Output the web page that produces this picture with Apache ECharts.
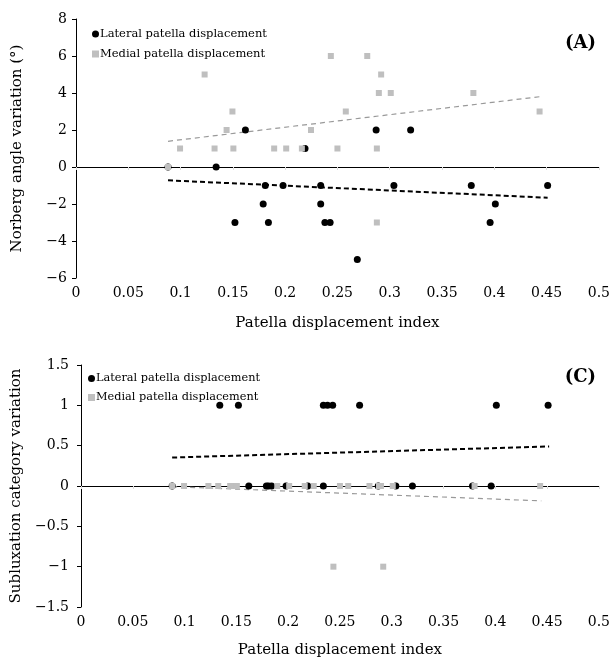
<!DOCTYPE html>
<html>
<head>
<meta charset="utf-8">
<script src="https://cdn.jsdelivr.net/npm/echarts@6/dist/echarts.min.js"></script>
<style>
  html, body { margin: 0; padding: 0; background: #fff; }
  #chart { width: 613px; height: 659px; }
</style>
</head>
<body>
<div id="chart"></div>
<script>
// patella displacement index (x) for each dog
const lateralIndex = [0.088, 0.134, 0.162, 0.181, 0.179, 0.152, 0.184, 0.198, 0.219, 0.234, 0.234,
  0.238, 0.243, 0.269, 0.287, 0.32, 0.304, 0.378, 0.396, 0.401, 0.451]
const lateralNorberg = [0, 0, 2, -1, -2, -3, -3, -1, 1, -1, -2,
  -3, -3, -5, 2, 2, -1, -1, -3, -2, -1]
const lateralSublux = [0, 1, 0, 0, 0, 1, 0, 0, 0, 0, 1,
  1, 1, 1, 0, 0, 0, 0, 0, 1, 1]

const medialIndex = [0.088, 0.0995, 0.123, 0.1325, 0.144, 0.1496, 0.1505, 0.1895, 0.201, 0.216, 0.2247,
  0.2437, 0.25, 0.258, 0.2785, 0.2877, 0.2877, 0.2896, 0.2918, 0.301, 0.38, 0.4433]
const medialNorberg = [0, 1, 5, 1, 2, 3, 1, 1, 1, 1, 2,
  6, 1, 3, 6, 1, -3, 4, 5, 4, 4, 3]
const medialSublux = [0, 0, 0, 0, 0, 0, 0, 0, 0, 0, 0,
  -1, 0, 0, 0, 0, 0, 0, -1, 0, 0, 0]

// linear trend ends [x, y]
const trendLateralA = [[0.088, -0.72], [0.451, -1.66]]
const trendMedialA = [[0.088, 1.39], [0.4433, 3.8]]
const trendLateralC = [[0.088, 0.353], [0.452, 0.49]]
const trendMedialC = [[0.088, -0.008], [0.4444, -0.184]]

const font = 'DejaVu Serif'
const minus = v => String(v).replace('-', '\u2212')
const zip = (xs, ys) => xs.map((x, i) => [x, ys[i]])

const myEChart = echarts.init(document.getElementById('chart'))

function xAxes(grid, nameGap) {
  return [
    {
      gridIndex: grid,
      type: 'value',
      min: 0,
      max: 0.5,
      interval: 0.05,
      position: 'bottom',
      axisLine: { onZero: true, lineStyle: { color: '#000', width: 1 } },
      axisTick: { show: true, length: 3, lineStyle: { color: '#ddd' } },
      axisLabel: { show: false },
      splitLine: { show: false }
    },
    {
      gridIndex: grid,
      type: 'value',
      min: 0,
      max: 0.5,
      interval: 0.05,
      position: 'bottom',
      axisLine: { show: false, onZero: false },
      axisTick: { show: false },
      axisLabel: {
        color: '#000',
        fontFamily: font,
        fontSize: 14,
        margin: 8,
        formatter: v => String(Math.round(v * 100) / 100)
      },
      splitLine: { show: false },
      name: 'Patella displacement index',
      nameLocation: 'middle',
      nameGap,
      nameTextStyle: { color: '#000', fontFamily: font, fontSize: 15 }
    }
  ]
}

function yAxis(grid, min, max, interval, name, margin, nameGap) {
  return {
    gridIndex: grid,
    type: 'value',
    min,
    max,
    interval,
    axisLine: { show: true, onZero: false, lineStyle: { color: '#000', width: 1 } },
    axisTick: { show: true, length: 4, lineStyle: { color: '#000' } },
    axisLabel: { color: '#000', fontFamily: font, fontSize: 14, margin, formatter: minus },
    splitLine: { show: false },
    name,
    nameLocation: 'middle',
    nameGap,
    nameTextStyle: { color: '#000', fontFamily: font, fontSize: 15 }
  }
}

function scatter(name, xi, yi, data, isLateral) {
  return {
    name,
    type: 'scatter',
    xAxisIndex: xi,
    yAxisIndex: yi,
    symbol: isLateral ? 'circle' : 'rect',
    symbolSize: isLateral ? 7 : 6,
    itemStyle: { color: isLateral ? '#000' : '#bfbfbf', opacity: 1 },
    z: isLateral ? 3 : 4,
    data
  }
}

function trend(xi, yi, data, isLateral) {
  return {
    type: 'line',
    xAxisIndex: xi,
    yAxisIndex: yi,
    symbol: 'none',
    silent: true,
    lineStyle: isLateral
      ? { color: '#000', width: 2, type: [5, 3] }
      : { color: '#999', width: 1.2, type: [5, 4] },
    z: 2,
    data
  }
}

const legendText = { color: '#000', fontFamily: font, fontSize: 11.5, padding: [0, 0, 0, -4] }
const legendData = [
  { name: 'Lateral patella displacement', icon: 'circle', itemStyle: { opacity: 1 } },
  { name: 'Medial patella displacement', icon: 'rect', itemStyle: { opacity: 1 } }
]

const option = {
  animation: false,
  grid: [
    { left: 76, right: 11, top: 19, height: 259 },
    { left: 81, right: 8, top: 365, height: 247 }
  ],
  legend: [
    {
      left: 87, top: 23, orient: 'vertical', itemGap: 8, itemWidth: 7, itemHeight: 7,
      textStyle: legendText, data: legendData, selectedMode: false
    },
    {
      left: 83, top: 368, orient: 'vertical', itemGap: 8, itemWidth: 7, itemHeight: 7,
      textStyle: Object.assign({}, legendText, { fontSize: 11.3 }), data: legendData, selectedMode: false
    }
  ],
  title: [
    { text: '(A)', right: 12, top: 29, textStyle: { fontFamily: font, fontSize: 18, fontWeight: 'bold', color: '#000' } },
    { text: '(C)', right: 12, top: 363, textStyle: { fontFamily: font, fontSize: 18, fontWeight: 'bold', color: '#000' } }
  ],
  xAxis: [...xAxes(0, 38), ...xAxes(1, 36)],
  yAxis: [
    yAxis(0, -6, 8, 2, 'Norberg angle variation (°)', 9, 51),
    yAxis(1, -1.5, 1.5, 0.5, 'Subluxation category variation', 12, 55)
  ],
  series: [
    scatter('Lateral patella displacement', 0, 0, zip(lateralIndex, lateralNorberg), true),
    scatter('Medial patella displacement', 0, 0, zip(medialIndex, medialNorberg), false),
    trend(0, 0, trendLateralA, true),
    trend(0, 0, trendMedialA, false),
    scatter('Lateral patella displacement', 2, 1, zip(lateralIndex, lateralSublux), true),
    scatter('Medial patella displacement', 2, 1, zip(medialIndex, medialSublux), false),
    trend(2, 1, trendLateralC, true),
    trend(2, 1, trendMedialC, false)
  ]
}
myEChart.setOption(option)

window.addEventListener('resize', () => {
  myEChart.resize()
})
</script>
</body>
</html>
